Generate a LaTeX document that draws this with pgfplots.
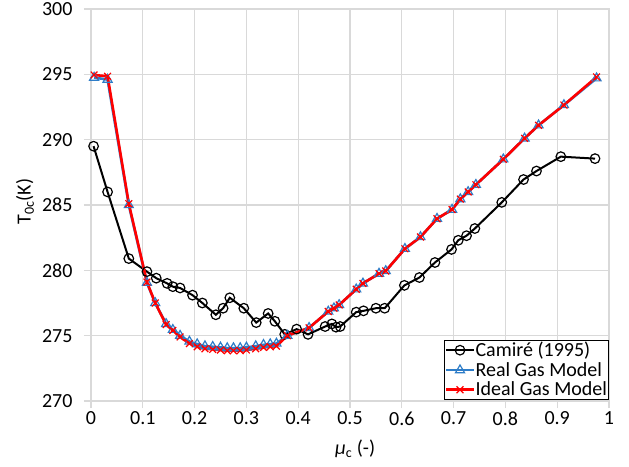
\documentclass[border=0pt]{standalone}
\usepackage{fontspec}
\setmainfont{Carlito}
\usepackage{pgfplots}
\pgfplotsset{compat=1.18}
\definecolor{gridgray}{RGB}{217,217,217}
\definecolor{realblue}{RGB}{46,125,200}
\definecolor{idealred}{RGB}{255,0,0}

\begin{document}
\begin{tikzpicture}[font=\fontsize{20pt}{24pt}\selectfont]
\useasboundingbox (-91pt,-65pt) rectangle (538pt,401pt);
\begin{axis}[
  scale only axis, width=518pt, height=392pt,
  xmin=0, xmax=1, ymin=270, ymax=300,
  xtick={0,0.1,0.2,0.3,0.4,0.5,0.6,0.7,0.8,0.9,1},
  ytick={270,275,280,285,290,295,300},
  /pgf/number format/assume math mode=true,
  /pgf/number format/fixed,
  grid=major, major grid style={gridgray, line width=1.2pt},
  axis line style={gridgray, line width=1.2pt},
  tick align=outside, major tick length=7pt,
  tick style={gridgray, line width=1.2pt},
  xtick pos=bottom, ytick pos=left,
  yticklabel style={xshift=-8pt},
  xlabel={\textit{μ}\textsubscript{c} (-)},
  ylabel={T\textsubscript{0c}(K)},
  every axis x label/.style={at={(axis description cs:0.51,0)}, yshift=-48pt, anchor=center},
  every axis y label/.style={at={(axis description cs:0,0.509)}, xshift=-66pt, rotate=90, anchor=center},
  legend cell align=left,
  legend style={at={(1,0.004)}, anchor=south east, draw=black, line width=0.8pt,
    fill=white, inner sep=1pt, row sep=3pt,
    nodes={inner sep=0.6pt}},
  every axis plot/.append style={
    legend image code/.code={\draw[mark repeat=2,mark phase=2] plot coordinates {(0cm,0cm) (0.48cm,0cm) (0.96cm,0cm)};}},
]
\addplot[black, line width=2pt, mark=o, mark size=4.8pt, mark options={line width=1.2pt}] coordinates {
(0.005,289.5) (0.032,286.0) (0.073,280.9) (0.108,279.9) (0.126,279.4)
(0.147,279.0) (0.158,278.75) (0.172,278.65) (0.196,278.1) (0.215,277.5)
(0.241,276.6) (0.255,277.1) (0.268,277.9) (0.295,277.1) (0.319,276.0)
(0.342,276.7) (0.355,276.1) (0.374,275.1) (0.397,275.5) (0.419,275.1)
(0.452,275.7) (0.465,275.9) (0.473,275.65) (0.481,275.7) (0.512,276.8)
(0.526,276.9) (0.550,277.1) (0.567,277.1) (0.605,278.85) (0.634,279.45)
(0.664,280.6) (0.696,281.6) (0.709,282.3) (0.725,282.65) (0.741,283.2)
(0.793,285.2) (0.835,286.95) (0.860,287.6) (0.907,288.7) (0.973,288.55)
};
\addlegendentry{Camiré (1995)}
\addplot[realblue, line width=2.6pt, mark=triangle, mark size=5.2pt, mark options={line width=1.2pt}] coordinates {
(0.006,294.75) (0.032,294.6) (0.073,285.0) (0.108,279.05) (0.124,277.5)
(0.145,275.9) (0.158,275.45) (0.172,275.0) (0.190,274.55) (0.205,274.35)
(0.220,274.2) (0.235,274.15) (0.250,274.1) (0.263,274.05) (0.275,274.05)
(0.288,274.05) (0.300,274.1) (0.318,274.2) (0.333,274.3) (0.346,274.35)
(0.358,274.4) (0.379,275.0) (0.421,275.6) (0.458,276.85) (0.469,277.1)
(0.479,277.35) (0.512,278.55) (0.525,279.0) (0.556,279.75) (0.569,279.95)
(0.606,281.65) (0.636,282.55) (0.668,283.95) (0.697,284.65) (0.713,285.45)
(0.728,286.0) (0.743,286.55) (0.796,288.5) (0.837,290.1) (0.864,291.1)
(0.913,292.65) (0.976,294.7)
};
\addlegendentry{Real Gas Model}
\addplot[idealred, line width=2.6pt, mark=x, mark size=4.8pt, mark options={line width=1.2pt}] coordinates {
(0.006,294.95) (0.032,294.85) (0.073,285.1) (0.108,279.1) (0.124,277.5)
(0.145,275.85) (0.158,275.4) (0.172,274.9) (0.190,274.4) (0.205,274.15)
(0.220,274.0) (0.235,273.95) (0.250,273.9) (0.263,273.85) (0.275,273.85)
(0.288,273.85) (0.300,273.9) (0.318,274.0) (0.333,274.1) (0.346,274.15)
(0.358,274.2) (0.379,275.0) (0.421,275.6) (0.458,276.85) (0.469,277.1)
(0.479,277.35) (0.512,278.55) (0.525,279.0) (0.556,279.75) (0.569,279.95)
(0.606,281.65) (0.636,282.55) (0.668,283.95) (0.697,284.65) (0.713,285.45)
(0.728,286.0) (0.743,286.55) (0.796,288.5) (0.837,290.1) (0.864,291.1)
(0.913,292.65) (0.976,294.8)
};
\addlegendentry{Ideal Gas Model}
\end{axis}
\end{tikzpicture}
\end{document}
